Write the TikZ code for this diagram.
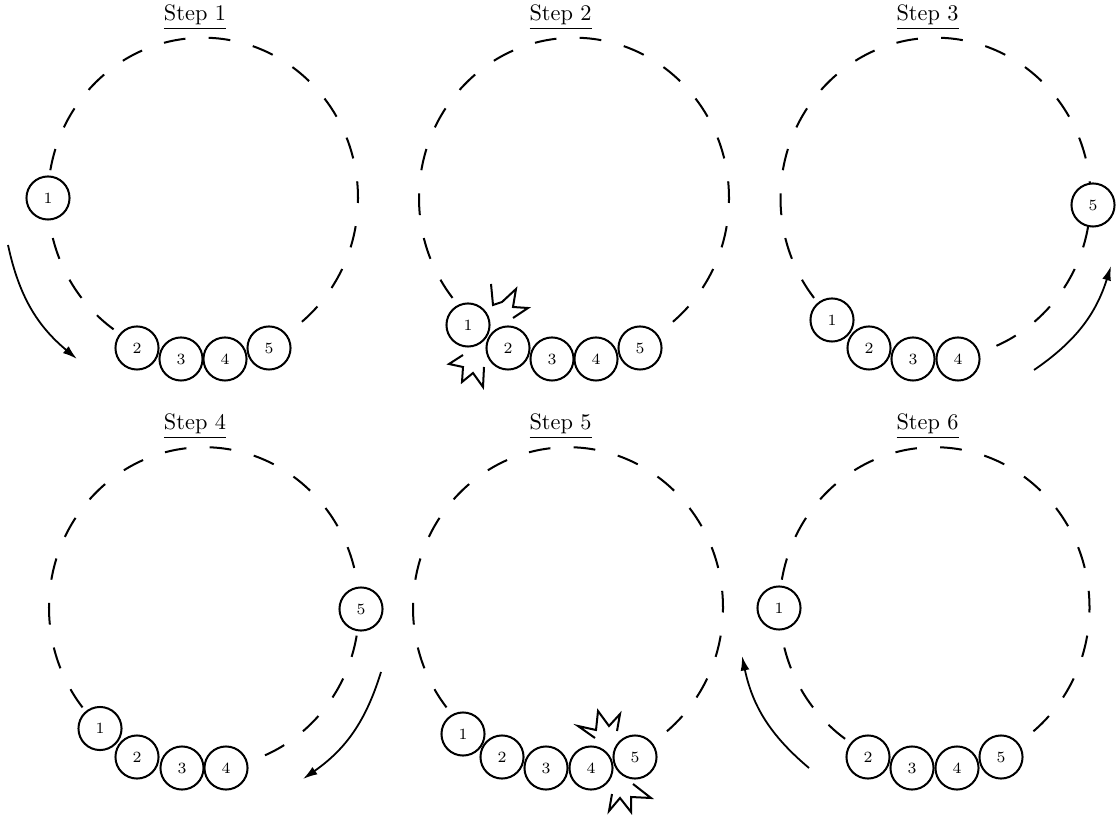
\documentclass[tikz,border=0pt]{standalone}
\usetikzlibrary{arrows.meta}
\begin{document}
\begin{tikzpicture}[x=0.448pt,y=0.448pt,
  ring/.style={line width=0.9pt, dash pattern=on 9.77pt off 10.42pt, dash phase=2.2pt},
  ball/.style={circle, draw, fill=white, line width=0.9pt, minimum size=19.3pt, inner sep=0pt, font=\scriptsize},
  move/.style={line width=0.8pt, -{Latex[length=6.5pt,width=4pt]}},
  bang/.style={line width=0.9pt, line join=miter},
  title/.style={anchor=base, font=\normalsize}]
\useasboundingbox (0,0) rectangle (1117,816);

% panel centres
\coordinate (c1) at (203,617.8);
\coordinate (c2) at (574,617.8);
\coordinate (c3) at (935.5,617.8);
\coordinate (c4) at (204,208.3);
\coordinate (c5) at (568,208.3);
\coordinate (c6) at (934.5,208.3);

% dashed tracks
\foreach \c in {c1,c2,c3,c4,c5,c6}
  \draw[ring] (\c) ellipse[x radius=155, y radius=160.5];

% titles
\node[title] (t1) at (195,795.3) {\underline{Step 1}};
\node[title] (t2) at (560.5,795.3) {\underline{Step 2}};
\node[title] (t3) at (927.5,795.3) {\underline{Step 3}};
\node[title] (t4) at (195,386) {\underline{Step 4}};
\node[title] (t5) at (560.5,386) {\underline{Step 5}};
\node[title] (t6) at (927.5,386) {\underline{Step 6}};

% arrows
\coordinate (a1s) at (8,571);    \coordinate (a1e) at (77,457);
\coordinate (a3s) at (1034,446); \coordinate (a3e) at (1111,550);
\coordinate (a4s) at (381,144);  \coordinate (a4e) at (303,37);
\coordinate (a6s) at (809,48);   \coordinate (a6e) at (742,160);
\draw[move] (a1s) to[bend right=19] (a1e);
\draw[move] (a3s) to[bend right=19] (a3e);
\draw[move] (a4s) to[bend left=19] (a4e);
\draw[move] (a6s) to[bend left=19] (a6e);

% collision marks
\draw[bang] (491,532) -- (493,511) -- (502,514) -- (516,527) -- (513,509) -- (528,508) -- (513,498);
\draw[bang] (463,461) -- (449,452) -- (463,449) -- (462,434) -- (473,443) -- (483,429) -- (484,449);
\draw[bang] (595,78) -- (578,90) -- (596,86) -- (598,105) -- (609,90) -- (620,102) -- (617,85);
\draw[bang] (633,32) -- (651,18) -- (631,19) -- (631,4) -- (620,18) -- (609,5) -- (612,22);

% Step 1
\node[ball] (p1n1) at (48,618) {1};
\node[ball] (p1n2) at (137,468) {2};
\node[ball] (p1n3) at (181,457) {3};
\node[ball] (p1n4) at (225,457) {4};
\node[ball] (p1n5) at (269,468) {5};
% Step 2
\node[ball] (p2n1) at (468,491) {1};
\node[ball] (p2n2) at (508,468) {2};
\node[ball] (p2n3) at (552,457) {3};
\node[ball] (p2n4) at (596,457) {4};
\node[ball] (p2n5) at (640,468) {5};
% Step 3
\node[ball] (p3n1) at (832,496) {1};
\node[ball] (p3n2) at (869,468) {2};
\node[ball] (p3n3) at (913,457) {3};
\node[ball] (p3n4) at (958,457) {4};
\node[ball] (p3n5) at (1093,611) {5};
% Step 4
\node[ball] (p4n1) at (100,87.5) {1};
\node[ball] (p4n2) at (137,59) {2};
\node[ball] (p4n3) at (182,48) {3};
\node[ball] (p4n4) at (226,48) {4};
\node[ball] (p4n5) at (361,207) {5};
% Step 5
\node[ball] (p5n1) at (463,82) {1};
\node[ball] (p5n2) at (502,59) {2};
\node[ball] (p5n3) at (546,48) {3};
\node[ball] (p5n4) at (591,48) {4};
\node[ball] (p5n5) at (635,59) {5};
% Step 6
\node[ball] (p6n1) at (779,208) {1};
\node[ball] (p6n2) at (868,59) {2};
\node[ball] (p6n3) at (912,48) {3};
\node[ball] (p6n4) at (957,48) {4};
\node[ball] (p6n5) at (1001,59) {5};
\end{tikzpicture}
\end{document}
